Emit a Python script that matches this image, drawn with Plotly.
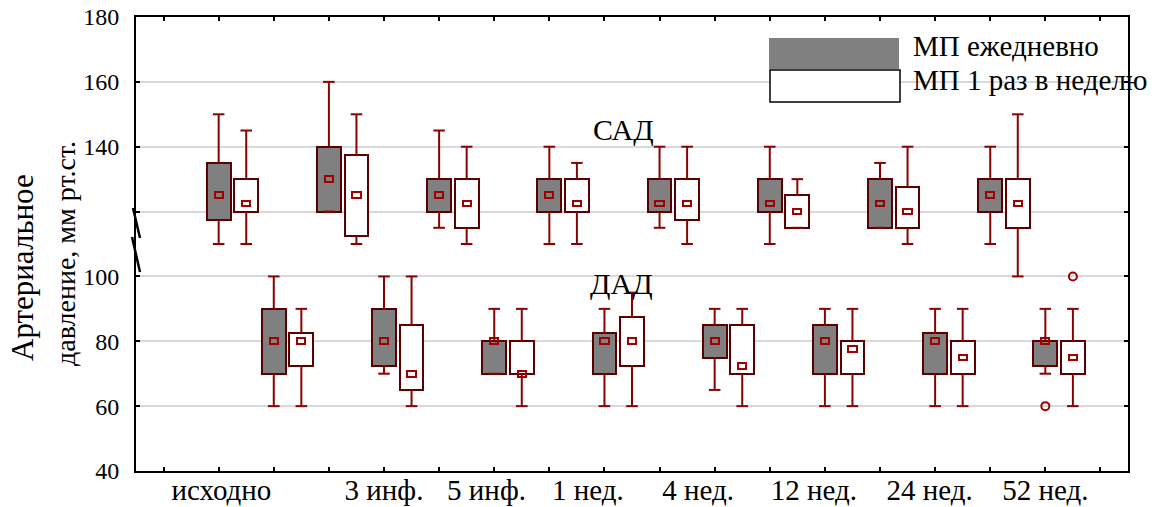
import plotly.graph_objects as go

# ---------------- data ----------------
periods = ["исходно", "3 инф.", "5 инф.", "1 нед.", "4 нед.", "12 нед.", "24 нед.", "52 нед."]
label_pos = [1.55, 4.5, 6.36, 8.2, 10.2, 12.3, 14.4, 16.5]

# SAD, daily (МП ежедневно)
sad_d_low = [110, 120, 115, 110, 115, 110, 115, 110]
sad_d_q1 = [117.5, 120, 120, 120, 120, 120, 115, 120]
sad_d_med = [125, 130, 125, 125, 122.5, 122.5, 122.5, 125]
sad_d_q3 = [135, 140, 130, 130, 130, 130, 130, 130]
sad_d_high = [150, 160, 145, 140, 140, 140, 135, 140]

# SAD, weekly (МП 1 раз в неделю)
sad_w_low = [110, 110, 110, 110, 110, 115, 110, 100]
sad_w_q1 = [120, 112.5, 115, 120, 117.5, 115, 115, 115]
sad_w_med = [122.5, 125, 122.5, 122.5, 122.5, 120, 120, 122.5]
sad_w_q3 = [130, 137.5, 130, 130, 130, 125, 127.5, 130]
sad_w_high = [145, 150, 140, 135, 140, 130, 140, 150]

# DAD, daily
dad_d_low = [60, 70, 70, 60, 65, 60, 60, 70]
dad_d_q1 = [70, 72.5, 70, 70, 75, 70, 70, 72.5]
dad_d_med = [80, 80, 80, 80, 80, 80, 80, 80]
dad_d_q3 = [90, 90, 80, 82.5, 85, 85, 82.5, 80]
dad_d_high = [100, 100, 90, 90, 90, 90, 90, 90]

# DAD, weekly
dad_w_low = [60, 60, 60, 60, 60, 60, 60, 60]
dad_w_q1 = [72.5, 65, 70, 72.5, 70, 70, 70, 70]
dad_w_med = [80, 70, 70, 80, 72.5, 77.5, 75, 75]
dad_w_q3 = [82.5, 85, 80, 87.5, 85, 80, 80, 80]
dad_w_high = [90, 100, 90, 95, 90, 90, 90, 90]

# outliers (group index, slot, value)
out_group = [7, 7]
out_slot = [2, 3]          # 0: SAD daily, 1: SAD weekly, 2: DAD daily, 3: DAD weekly
out_val = [60, 100]

series_names = ["МП ежедневно", "МП 1 раз в неделю"]
y_ticks = [40, 60, 80, 100, 120, 140, 160, 180]
y_ticktext = ["40", "60", "80", "100", "", "140", "160", "180"]

# ---------------- style ----------------
FONT = "Liberation Serif, Times New Roman, serif"
GRAY = "#808080"
BORDER = "#5a0000"
WHISK = "#8b0000"
MED = "#a00000"
BOX_W = 0.43
CAP_HW = 0.105
MED_W = 0.15
MED_H = 1.8

def slot_x(g, slot):
    return 1.5 + 2 * g + 0.5 * slot

fig = go.Figure()

groups = [
    (0, sad_d_low, sad_d_q1, sad_d_med, sad_d_q3, sad_d_high, GRAY),
    (1, sad_w_low, sad_w_q1, sad_w_med, sad_w_q3, sad_w_high, "white"),
    (2, dad_d_low, dad_d_q1, dad_d_med, dad_d_q3, dad_d_high, GRAY),
    (3, dad_w_low, dad_w_q1, dad_w_med, dad_w_q3, dad_w_high, "white"),
]

for slot, lo, q1, med, q3, hi, fill in groups:
    xs = [slot_x(g, slot) for g in range(len(periods))]
    wx, wy = [], []
    for x, a, b, c, d in zip(xs, lo, q1, q3, hi):
        wx += [x, x, None, x, x, None, x - CAP_HW, x + CAP_HW, None, x - CAP_HW, x + CAP_HW, None]
        wy += [d, c, None, b, a, None, d, d, None, a, a, None]
    fig.add_trace(go.Scatter(x=wx, y=wy, mode="lines", line=dict(color=WHISK, width=2),
                             hoverinfo="skip", showlegend=False))
    fig.add_trace(go.Bar(x=xs, base=q1, y=[b - a for a, b in zip(q1, q3)], width=BOX_W,
                         marker=dict(color=fill, line=dict(color=BORDER, width=2)),
                         showlegend=False))
    fig.add_trace(go.Bar(x=xs, base=[m - MED_H / 2 for m in med], y=[MED_H] * len(med), width=MED_W,
                         marker=dict(color="rgba(0,0,0,0)", line=dict(color=MED, width=2)),
                         showlegend=False))

fig.add_trace(go.Scatter(x=[slot_x(g, s) for g, s in zip(out_group, out_slot)], y=out_val,
                         mode="markers",
                         marker=dict(symbol="circle-open", size=8, color=MED, line=dict(width=2)),
                         showlegend=False))

L, R, T, B = 136, 27, 17, 36
W, H = 1155, 507
pw, ph = W - L - R, H - T - B

def px(x):
    return (x - L) / pw

def py(y):
    return (H - B - y) / ph

shapes = [
    dict(type="rect", xref="paper", yref="paper", x0=px(769), x1=px(899), y0=py(69), y1=py(38),
         fillcolor=GRAY, line=dict(width=0)),
    dict(type="rect", xref="paper", yref="paper", x0=px(770), x1=px(900), y0=py(102), y1=py(70),
         fillcolor="white", line=dict(color="black", width=1.5)),
    dict(type="line", xref="paper", yref="paper", x0=px(133), x1=px(140), y0=py(208), y1=py(238),
         line=dict(color="black", width=2.5)),
    dict(type="line", xref="paper", yref="paper", x0=px(132), x1=px(140), y0=py(237), y1=py(272),
         line=dict(color="black", width=2.5)),
]

annotations = [
    dict(text=series_names[0], xref="paper", yref="paper", x=px(911), y=py(46), xanchor="left",
         yanchor="middle", showarrow=False, font=dict(family=FONT, size=29, color="black")),
    dict(text=series_names[1], xref="paper", yref="paper", x=px(911), y=py(80), xanchor="left",
         yanchor="middle", showarrow=False, font=dict(family=FONT, size=29, color="black")),
    dict(text="САД", xref="paper", yref="paper", x=px(623), y=py(129), xanchor="center",
         yanchor="middle", showarrow=False, font=dict(family=FONT, size=30, color="black")),
    dict(text="ДАД", xref="paper", yref="paper", x=px(621), y=py(283), xanchor="center",
         yanchor="middle", showarrow=False, font=dict(family=FONT, size=30, color="black")),
    dict(text="Артериальное", xref="paper", yref="paper", x=px(22), y=py(268),
         xanchor="center", yanchor="middle", textangle=-90, showarrow=False,
         font=dict(family=FONT, size=31, color="black")),
    dict(text="давление, мм рт.ст.", xref="paper", yref="paper", x=px(66), y=py(254),
         xanchor="center", yanchor="middle", textangle=-90, showarrow=False,
         font=dict(family=FONT, size=28, color="black")),
]

fig.update_layout(
    width=W, height=H,
    margin=dict(l=L, r=R, t=T, b=B, pad=0, autoexpand=False),
    paper_bgcolor="white", plot_bgcolor="white",
    barmode="overlay", bargap=0,
    font=dict(family=FONT, size=24, color="black"),
    shapes=shapes, annotations=annotations,
    showlegend=False,
)
fig.update_xaxes(
    range=[0, 18], tickmode="array", tickvals=label_pos, ticktext=periods,
    ticks="", showgrid=False, zeroline=False, automargin=False,
    showline=True, linecolor="black", linewidth=2, mirror="ticks",
    tickfont=dict(family=FONT, size=29, color="black"), ticklabelstandoff=-8,
    minor=dict(tickmode="array", tickvals=[k + 0.5 for k in range(18)], ticks="inside",
               ticklen=4, tickwidth=1.5, tickcolor="black", showgrid=False),
)
fig.update_yaxes(
    range=[40, 180], tickmode="array", tickvals=y_ticks, ticktext=y_ticktext,
    ticks="inside", ticklen=4, tickwidth=1.5, tickcolor="black",
    showgrid=True, gridcolor="#d9d9d9", gridwidth=1.5, zeroline=False, automargin=False,
    showline=True, linecolor="black", linewidth=2, mirror="ticks",
    tickfont=dict(family=FONT, size=24, color="black"), ticklabelstandoff=10,
)

fig.write_html("out.html")
